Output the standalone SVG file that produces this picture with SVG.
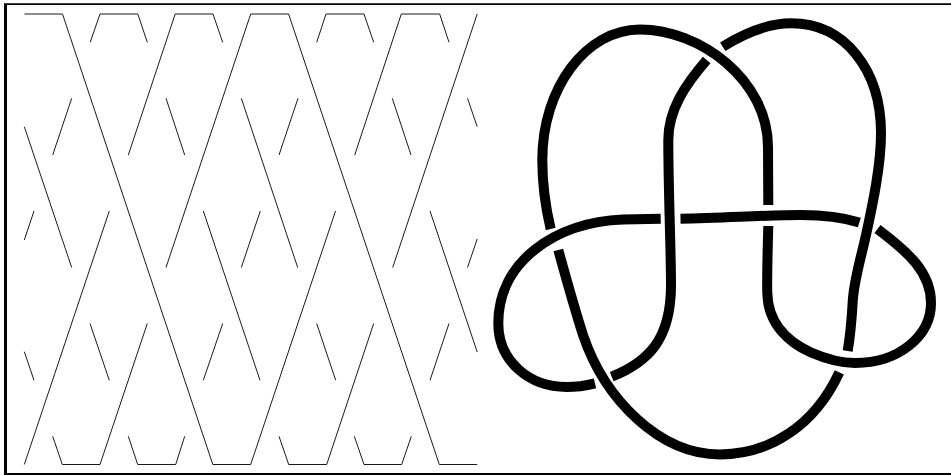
<svg xmlns="http://www.w3.org/2000/svg" width="951" height="475" viewBox="0 0 951 475">
<style>
.l{fill:none;stroke:#000;stroke-width:.9;stroke-linejoin:miter;stroke-linecap:butt}
.k{fill:none;stroke:#000;stroke-width:10;stroke-linecap:butt;stroke-linejoin:round}
</style>
<rect width="951" height="475" fill="#fff"/>
<path d="M4,475V3.2H951V5H7V473H951V475Z" fill="#000"/>
<g id="lattice">
<polyline class="l" points="24.5,14 62.5,14 212.8,464.5 250.7,464.5 335.5,211"/>
<polyline class="l" points="90.2,42.3 100,14 137.8,14 147.3,42.3"/>
<polyline class="l" points="128.3,155 175.2,14 213,14 222.7,42.3"/>
<polyline class="l" points="166,267.5 250.7,14 288.6,14 439.3,464.5 477.2,464.5"/>
<polyline class="l" points="316.7,42.3 326,14 364,14 373.7,42.3"/>
<polyline class="l" points="354.7,155 401.3,14 439.7,14 449,42.3"/>
<polyline class="l" points="477.2,14 392.7,267.5"/>
<polyline class="l" points="71.7,98.3 52.7,155"/>
<polyline class="l" points="24.3,126.7 71.7,267.5"/>
<polyline class="l" points="34,211 24.3,240"/>
<polyline class="l" points="109.3,211 24.3,464.5"/>
<polyline class="l" points="166,98.3 184.7,155"/>
<polyline class="l" points="241.3,98.3 297.7,267.5"/>
<polyline class="l" points="203.3,211 260,380.3"/>
<polyline class="l" points="260.3,211 241.3,267.5"/>
<polyline class="l" points="298,98.3 279,155"/>
<polyline class="l" points="392.3,98.3 411,155"/>
<polyline class="l" points="467.5,98.3 477.2,126.7"/>
<polyline class="l" points="430,211 477.2,352"/>
<polyline class="l" points="477.2,239 467.5,267.5"/>
<polyline class="l" points="24.3,351.7 34,380.3"/>
<polyline class="l" points="90,323.5 109.3,380.3"/>
<polyline class="l" points="147.3,323.5 100,464.5 62.3,464.5 52.7,436.3"/>
<polyline class="l" points="222.7,323.5 203.3,380.3"/>
<polyline class="l" points="128.3,436.3 137.7,464.5 175.7,464.5 184.7,436.3"/>
<polyline class="l" points="316.7,323.5 335.7,380.3"/>
<polyline class="l" points="373.7,323.5 326.7,464.5 288.7,464.5 279,436.3"/>
<polyline class="l" points="449,323.5 430,380.3"/>
<polyline class="l" points="354.3,436.3 364,464.5 401.7,464.5 411.3,436.3"/>
</g>
<g id="knot">
<path class="k" d="M550.7,229C545,205 542.3,182 542.3,160C542.3,88 586,29.5 640,29.5C700,29.5 768,80 768,147C768,165 768.3,185 768.3,205"/>
<path class="k" d="M768.3,226C767.7,250 766.8,275 767.3,293C768,325 790,343 811,352.5C825,358.5 838,363 855,363C900,363 931,335 931,303C931,272 908,252 877.5,229"/>
<path class="k" d="M859.3,222.5C840,216.5 820,215 801,215C770,215 730,217.5 680.5,218.7"/>
<path class="k" d="M660.7,218.7L623,219.5C555,222 498.3,262 498.3,323C498.3,362 530,387 566.7,387C577,387 586,385.5 595,383.3"/>
<path class="k" d="M611.7,376.7C648,362 671,340 671,285C671,250 668.3,190 668.3,140C668.3,110 685,85 706.7,60"/>
<path class="k" d="M722.7,46.7C745,33 768,23.3 791,23.3C845,23.3 881,70 881,133C881,165 873,203 866,235C860,262 854,280 852.7,301.7C851.7,320 850,337 847.7,351"/>
<path class="k" d="M839.3,372.3C815,425 770,454.5 720,454.5C660,454.5 605,400 583,335C575,310 566,278 558.3,250"/>
</g>
</svg>
